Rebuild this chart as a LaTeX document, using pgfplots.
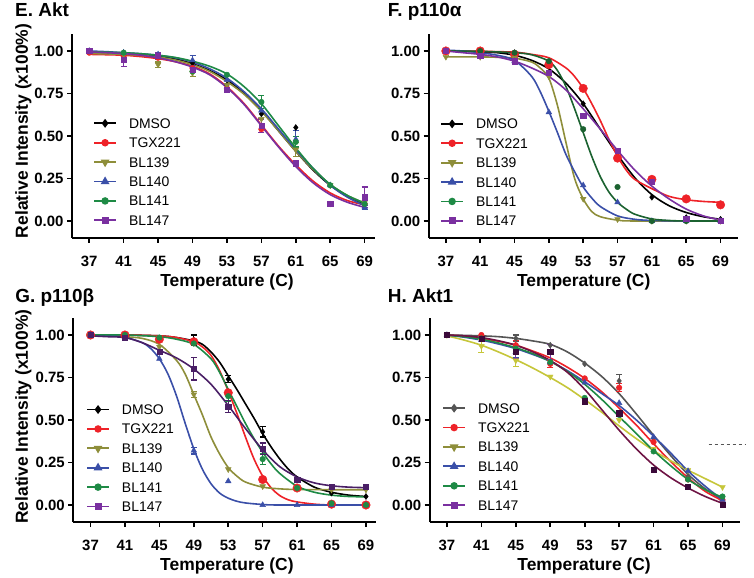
\documentclass[border=0pt]{standalone}
\usepackage{fontspec}
\setmainfont{Liberation Sans}
\usepackage{pgfplots}
\pgfplotsset{compat=1.18}

\definecolor{cRed}{HTML}{EE2228}
\definecolor{cOlive}{HTML}{8E8E3A}
\definecolor{cBlue}{HTML}{3A4FA8}
\definecolor{cGreen}{HTML}{1E8A45}
\definecolor{cDkGreen}{HTML}{1B6230}
\definecolor{cPurple}{HTML}{7A30A0}
\definecolor{cDkPurple}{HTML}{4A1F66}
\definecolor{cGray}{HTML}{555555}
\definecolor{cYellow}{HTML}{C6C63A}
\definecolor{cMaroon}{HTML}{6E1444}
\definecolor{cDkMark}{HTML}{3B0A3A}

\newcommand\tickfont{\fontsize{15}{17}\selectfont\bfseries}
\newcommand\labfont{\fontsize{17.5}{20}\selectfont\bfseries}
\newcommand\titfont{\fontsize{19}{22}\selectfont\bfseries}
\newcommand\legfont{\fontsize{14}{16}\selectfont}

\pgfplotsset{
  cetsa/.style={
    scale only axis, height=204bp,
    xmin=35, ymin=-0.1, ymax=1.1,
    axis lines=left, axis line style={-, line width=1.6bp},
    xtick={37,41,...,69}, ytick={0,0.25,0.5,0.75,1},
    tick align=outside, major tick length=5bp,
    every tick/.style={black, line width=1.6bp},
    ticklabel style={font=\tickfont},
    xticklabel style={yshift=-10bp},
    yticklabel style={/pgf/number format/.cd, fixed, fixed zerofill, precision=2},
    /pgf/number format/assume math mode=true,
    xlabel={Temperature (C)},
    xlabel style={font=\labfont, anchor=base},
    ylabel style={font=\labfont, anchor=base},
    title style={font=\titfont, anchor=base west},
    legend cell align=left,
    legend style={draw=none, fill=none, inner sep=0pt, column sep=12bp, row sep=9.4bp,
      font=\legfont, nodes={inner sep=0pt, text height=10bp, text depth=0pt}, anchor=north west},
    legend image code/.code={\draw[mark repeat=2,mark phase=2,#1] plot coordinates {(0bp,0bp) (11bp,0bp) (22bp,0bp)};},
    clip=false,
  },
  fit/.style={smooth, no marks, line width=1.6bp, forget plot},
  pts/.style={only marks, forget plot,
    error bars/y dir=both, error bars/y explicit,
    error bars/error bar style={line width=1.1bp},
    error bars/error mark options={rotate=90, mark size=3bp, line width=1.1bp}},
  leg/.style={line width=1.8bp},
  mDMSO/.style={mark=diamond*, mark size=3bp},
  mTGX/.style={mark=*, mark size=2.8bp},
  mBIG/.style={mark=*, mark size=4.3bp},
  m139/.style={mark=triangle*, mark size=3.3bp, mark options={rotate=180}},
  m140/.style={mark=triangle*, mark size=3.3bp},
  m141/.style={mark=*, mark size=2.8bp},
  m147/.style={mark=square*, mark size=2.6bp},
}

\begin{document}
\begin{tikzpicture}
\useasboundingbox (0,0) rectangle (754bp,578bp);

% ---------------- E. Akt
\begin{axis}[cetsa, at={(72bp,340bp)}, anchor=south west, width=303bp, xmax=70.2,
  title={E. Akt}, title style={at={(axis description cs:-0.199,1.058)}},
  xlabel style={at={(axis description cs:0.5116,-0.238)}},
  ylabel={Relative Intensity (x100\%)}, ylabel style={at={(axis description cs:-0.146,0.5245)}},
  legend style={at={(axis cs:37.44,0.605)}}]
\addlegendimage{leg, black, mDMSO}\addlegendentry{DMSO}
\addlegendimage{leg, cRed, mTGX}\addlegendentry{TGX221}
\addlegendimage{leg, cOlive, m139}\addlegendentry{BL139}
\addlegendimage{leg, cBlue, m140}\addlegendentry{BL140}
\addlegendimage{leg, cGreen, m141}\addlegendentry{BL141}
\addlegendimage{leg, cPurple, m147}\addlegendentry{BL147}

\addplot[fit, black] coordinates {(37,0.990) (39,0.988) (41,0.985) (43,0.979) (45,0.970) (47,0.953) (49,0.925) (51,0.885) (53,0.830) (55,0.750) (57,0.650) (59,0.530) (61,0.410) (63,0.300) (65,0.210) (67,0.145) (69,0.100)};
\addplot[fit, cRed] coordinates {(37,0.980) (39,0.978) (41,0.975) (43,0.967) (45,0.955) (47,0.937) (49,0.910) (51,0.865) (53,0.790) (55,0.690) (57,0.565) (59,0.440) (61,0.330) (63,0.235) (65,0.165) (67,0.120) (69,0.095)};
\addplot[fit, cOlive] coordinates {(37,0.985) (39,0.983) (41,0.980) (43,0.974) (45,0.965) (47,0.947) (49,0.920) (51,0.880) (53,0.820) (55,0.745) (57,0.645) (59,0.530) (61,0.410) (63,0.305) (65,0.215) (67,0.150) (69,0.105)};
\addplot[fit, cBlue] coordinates {(37,1.000) (39,0.996) (41,0.990) (43,0.984) (45,0.975) (47,0.960) (49,0.935) (51,0.895) (53,0.840) (55,0.760) (57,0.660) (59,0.540) (61,0.420) (63,0.310) (65,0.210) (67,0.140) (69,0.090)};
\addplot[fit, cGreen] coordinates {(37,0.995) (39,0.993) (41,0.990) (43,0.984) (45,0.975) (47,0.962) (49,0.940) (51,0.910) (53,0.865) (55,0.790) (57,0.690) (59,0.560) (61,0.430) (63,0.310) (65,0.215) (67,0.150) (69,0.105)};
\addplot[fit, cPurple] coordinates {(37,0.995) (39,0.990) (41,0.985) (43,0.975) (45,0.960) (47,0.937) (49,0.905) (51,0.860) (53,0.785) (55,0.685) (57,0.560) (59,0.435) (61,0.320) (63,0.225) (65,0.155) (67,0.110) (69,0.080)};

\addplot[pts, black, mDMSO] coordinates {(37,1.00) (41,0.99) (45,0.97) (49,0.93) (53,0.80) (57,0.63) (61,0.55) (65,0.21) (69,0.10)};
\addplot[pts, cRed, mTGX] coordinates {(37,0.99) (41,0.97) (45,0.96) (49,0.90) (53,0.78) (57,0.54) (61,0.34) (65,0.10) (69,0.10)};
\addplot[pts, cOlive, m139] coordinates {(37,1.00) (41,0.98) (45,0.92) +- (0,0.015) (49,0.87) +- (0,0.02) (53,0.80) (57,0.60) (61,0.42) +- (0,0.04) (65,0.21) (69,0.11)};
\addplot[pts, cBlue, m140] coordinates {(37,1.00) (41,0.99) (45,0.98) (49,0.945) +- (0,0.03) (53,0.83) (57,0.65) (61,0.48) +- (0,0.05) (65,0.21) (69,0.08) +- (0,0.01)};
\addplot[pts, cGreen, m141] coordinates {(37,1.00) (41,0.99) (45,0.97) (49,0.88) (53,0.86) (57,0.70) +- (0,0.04) (61,0.465) +- (0,0.03) (65,0.21) (69,0.10)};
\addplot[pts, cPurple, m147] coordinates {(37,1.00) (41,0.95) +- (0,0.04) (45,0.97) +- (0,0.02) (49,0.89) (53,0.77) (57,0.56) +- (0,0.04) (61,0.34) (65,0.10) (69,0.14) +- (0,0.06)};
\end{axis}

% ---------------- F. p110alpha
\begin{axis}[cetsa, at={(428.7bp,340bp)}, anchor=south west, width=309bp, xmax=71,
  title={F. p110α}, title style={at={(axis description cs:-0.1437,1.058)}},
  xlabel style={at={(axis description cs:0.5016,-0.238)}},
  legend style={at={(axis cs:36.32,0.602)}}]
\addlegendimage{leg, black, mDMSO}\addlegendentry{DMSO}
\addlegendimage{leg, cRed, mTGX}\addlegendentry{TGX221}
\addlegendimage{leg, cOlive, m139}\addlegendentry{BL139}
\addlegendimage{leg, cBlue, m140}\addlegendentry{BL140}
\addlegendimage{leg, cGreen, m141}\addlegendentry{BL141}
\addlegendimage{leg, cPurple, m147}\addlegendentry{BL147}

\addplot[fit, black] coordinates {(37,1.0) (39,0.998) (41,0.995) (43,0.99) (45,0.975) (47,0.945) (49,0.895) (51,0.81) (53,0.69) (55,0.54) (57,0.39) (59,0.255) (61,0.155) (63,0.09) (65,0.05) (67,0.025) (69,0.01)};
\addplot[fit, cRed] coordinates {(37,1.0) (41,0.998) (45,0.993) (47,0.98) (49,0.96) (51,0.90) (52,0.85) (53,0.78) (54,0.69) (55,0.59) (56,0.48) (57,0.38) (58,0.30) (59,0.245) (61,0.19) (63,0.145) (65,0.125) (67,0.115) (69,0.11)};
\addplot[fit, cOlive] coordinates {(37,0.965) (41,0.965) (43,0.963) (45,0.958) (47,0.935) (48,0.90) (49,0.84) (50,0.68) (51,0.46) (52,0.25) (53,0.13) (54,0.055) (55,0.025) (57,0.005) (59,0) (69,0)};
\addplot[fit, cBlue] coordinates {(37,1.005) (39,1.0) (41,0.99) (43,0.975) (45,0.945) (47,0.85) (48,0.76) (49,0.645) (50,0.52) (51,0.39) (52,0.29) (53,0.20) (54,0.135) (55,0.085) (57,0.03) (59,0.01) (61,0.003) (65,0) (69,0)};
\addplot[fit, cDkGreen] coordinates {(37,1.0) (41,0.998) (45,0.99) (47,0.978) (49,0.94) (50,0.885) (51,0.79) (52,0.66) (53,0.52) (54,0.38) (55,0.26) (56,0.17) (57,0.11) (58,0.07) (59,0.04) (61,0.012) (63,0.003) (65,0) (69,0)};
\addplot[fit, cPurple] coordinates {(37,1.0) (39,0.99) (41,0.98) (43,0.965) (45,0.94) (47,0.90) (49,0.85) (51,0.77) (53,0.66) (55,0.54) (57,0.415) (59,0.30) (61,0.205) (63,0.13) (65,0.07) (67,0.03) (69,0.005)};

\addplot[pts, black, mDMSO] coordinates {(37,1.0) (41,0.99) (45,0.99) (49,0.91) (53,0.69) (57,0.38) (61,0.14) (65,0.02) (69,0.01)};
\addplot[pts, cRed, mBIG] coordinates {(37,1.0) (41,1.0) (45,0.98) (49,0.92) (53,0.78) (57,0.37) (61,0.245) (65,0.13) (69,0.095)};
\addplot[pts, cOlive, m139] coordinates {(37,0.965) (41,0.965) (45,0.96) (49,0.85) (53,0.13) (57,0.01) (61,0) (65,0) (69,0)};
\addplot[pts, cBlue, m140] coordinates {(37,1.0) (41,0.98) (45,0.94) (49,0.64) (53,0.21) (57,0.11) (61,0) (65,0) (69,0)};
\addplot[pts, cDkGreen, m141] coordinates {(37,1.0) (41,1.0) (45,0.99) (49,0.94) (53,0.54) (57,0.20) (61,0) (65,0) (69,0)};
\addplot[pts, cPurple, m147] coordinates {(37,1.0) (41,0.97) (45,0.94) (49,0.87) (53,0.62) (57,0.415) (61,0.23) (65,0.015) (69,0)};
\end{axis}

% ---------------- G. p110beta
\begin{axis}[cetsa, at={(73.3bp,56bp)}, anchor=south west, width=303bp, xmax=70.2,
  title={G. p110β}, title style={at={(axis description cs:-0.203,1.046)}},
  xlabel style={at={(axis description cs:0.507,-0.238)}},
  ylabel={Relative Intensity (x100\%)}, ylabel style={at={(axis description cs:-0.150,0.516)}},
  legend style={at={(axis cs:36.47,0.592)}}]
\addlegendimage{leg, black, mDMSO}\addlegendentry{DMSO}
\addlegendimage{leg, cRed, mTGX}\addlegendentry{TGX221}
\addlegendimage{leg, cOlive, m139}\addlegendentry{BL139}
\addlegendimage{leg, cBlue, m140}\addlegendentry{BL140}
\addlegendimage{leg, cGreen, m141}\addlegendentry{BL141}
\addlegendimage{leg, cPurple, m147}\addlegendentry{BL147}

\addplot[fit, black] coordinates {(37,1.0) (41,1.0) (45,0.995) (47,0.985) (49,0.965) (50,0.945) (51,0.90) (52,0.84) (53,0.76) (54,0.68) (55,0.595) (56,0.51) (57,0.42) (58,0.34) (59,0.27) (60,0.21) (61,0.165) (63,0.105) (65,0.075) (67,0.058) (69,0.05)};
\addplot[fit, cRed] coordinates {(37,1.0) (41,1.0) (45,0.995) (47,0.985) (49,0.96) (50,0.93) (51,0.88) (52,0.79) (53,0.67) (54,0.54) (55,0.40) (56,0.27) (57,0.17) (58,0.10) (59,0.055) (60,0.03) (61,0.018) (63,0.005) (65,0) (69,0)};
\addplot[fit, cOlive] coordinates {(37,1.0) (39,0.997) (41,0.99) (43,0.98) (45,0.945) (47,0.85) (48,0.77) (49,0.65) (50,0.53) (51,0.40) (52,0.30) (53,0.22) (54,0.17) (55,0.135) (57,0.105) (59,0.095) (61,0.091) (65,0.09) (69,0.09)};
\addplot[fit, cBlue] coordinates {(37,1.0) (39,0.998) (41,0.987) (43,0.955) (44,0.92) (45,0.86) (46,0.77) (47,0.64) (48,0.48) (49,0.33) (50,0.21) (51,0.125) (52,0.07) (53,0.04) (54,0.022) (55,0.012) (57,0.003) (59,0) (69,0)};
\addplot[fit, cGreen] coordinates {(37,1.0) (41,1.0) (45,0.99) (47,0.975) (49,0.945) (51,0.86) (52,0.78) (53,0.68) (54,0.58) (55,0.48) (56,0.39) (57,0.31) (58,0.24) (59,0.185) (61,0.11) (63,0.075) (65,0.058) (67,0.05) (69,0.048)};
\addplot[fit, cDkPurple] coordinates {(37,0.995) (39,0.99) (41,0.985) (43,0.955) (45,0.91) (47,0.865) (49,0.80) (51,0.71) (53,0.585) (55,0.45) (57,0.325) (59,0.225) (61,0.165) (63,0.13) (65,0.113) (67,0.105) (69,0.102)};

\addplot[pts, black, mDMSO] coordinates {(37,1.0) (41,1.0) (45,0.98) (49,0.97) +- (0,0.03) (53,0.74) +- (0,0.02) (57,0.43) +- (0,0.03) (61,0.15) (65,0.07) (69,0.05)};
\addplot[pts, cRed, mBIG] coordinates {(37,1.0) (41,1.0) (45,0.975) (49,0.96) (53,0.66) (57,0.15) (61,0.10) (65,0.005) (69,0)};
\addplot[pts, cOlive, m139] coordinates {(37,1.0) (41,0.99) (45,0.93) (49,0.65) +- (0,0.02) (53,0.21) (57,0.11) (61,0.10) (65,0.09) (69,0.09)};
\addplot[pts, cBlue, m140] coordinates {(37,1.0) (41,0.99) (45,0.86) (49,0.32) +- (0,0.02) (53,0.14) (57,0) (61,0) (65,0) (69,0)};
\addplot[pts, cGreen, m141] coordinates {(37,1.0) (41,1.0) (45,0.985) (49,0.95) (53,0.64) +- (0,0.03) (57,0.27) +- (0,0.03) (61,0.10) (65,0.01) (69,0)};
\addplot[pts, cDkPurple, m147] coordinates {(37,1.0) (41,0.985) (45,0.90) (49,0.80) +- (0,0.065) (53,0.58) +- (0,0.035) (57,0.33) +- (0,0.035) (61,0.15) (65,0.11) (69,0.11)};
\end{axis}

% ---------------- H. Akt1
\begin{axis}[cetsa, at={(429.7bp,56bp)}, anchor=south west, width=310bp, xmax=71,
  title={H. Akt1}, title style={at={(axis description cs:-0.146,1.046)}},
  xlabel style={at={(axis description cs:0.498,-0.238)}},
  legend style={at={(axis cs:36.43,0.60)}}]
\addlegendimage{leg, cGray, mDMSO}\addlegendentry{DMSO}
\addlegendimage{leg, cRed, mTGX}\addlegendentry{TGX221}
\addlegendimage{leg, cOlive, m139}\addlegendentry{BL139}
\addlegendimage{leg, cBlue, m140}\addlegendentry{BL140}
\addlegendimage{leg, cGreen, m141}\addlegendentry{BL141}
\addlegendimage{leg, cPurple, m147}\addlegendentry{BL147}

\addplot[fit, cGray] coordinates {(37,1.0) (39,0.998) (41,0.995) (43,0.99) (45,0.98) (47,0.965) (49,0.945) (51,0.90) (53,0.835) (55,0.755) (57,0.655) (59,0.535) (61,0.41) (63,0.29) (65,0.18) (67,0.095) (69,0.03)};
\addplot[fit, cRed] coordinates {(37,1.0) (39,0.992) (41,0.98) (43,0.963) (45,0.94) (47,0.905) (49,0.865) (51,0.81) (53,0.745) (55,0.665) (57,0.57) (59,0.47) (61,0.36) (63,0.255) (65,0.16) (67,0.08) (69,0.025)};
\addplot[fit, cYellow] coordinates {(37,0.995) (39,0.97) (41,0.94) (43,0.90) (45,0.855) (47,0.805) (49,0.75) (51,0.69) (53,0.62) (55,0.545) (57,0.465) (59,0.39) (61,0.32) (63,0.26) (65,0.205) (67,0.155) (69,0.105)};
\addplot[fit, cBlue] coordinates {(37,1.0) (39,0.987) (41,0.97) (43,0.947) (45,0.92) (47,0.885) (49,0.845) (51,0.79) (53,0.725) (55,0.655) (57,0.585) (59,0.50) (61,0.405) (63,0.305) (65,0.20) (67,0.11) (69,0.03)};
\addplot[fit, cGreen] coordinates {(37,1.0) (39,0.99) (41,0.975) (43,0.953) (45,0.925) (47,0.89) (49,0.845) (51,0.785) (53,0.71) (55,0.62) (57,0.52) (59,0.42) (61,0.32) (63,0.23) (65,0.15) (67,0.09) (69,0.045)};
\addplot[fit, cMaroon] coordinates {(37,1.0) (39,0.995) (41,0.985) (43,0.966) (45,0.94) (47,0.90) (49,0.85) (51,0.78) (53,0.68) (55,0.56) (57,0.44) (59,0.33) (61,0.235) (63,0.16) (65,0.10) (67,0.05) (69,0.01)};

\addplot[pts, cGray, mDMSO] coordinates {(37,1.0) (41,0.99) (45,0.98) +- (0,0.02) (49,0.94) (53,0.83) (57,0.73) +- (0,0.04) (61,0.39) (65,0.17) (69,0.03)};
\addplot[pts, cRed, mTGX] coordinates {(37,1.0) (41,1.0) (45,0.94) +- (0,0.03) (49,0.83) +- (0,0.02) (53,0.745) (57,0.69) +- (0,0.025) (61,0.37) (65,0.15) (69,0.03)};
\addplot[pts, cYellow, m139] coordinates {(37,1.0) (41,0.935) +- (0,0.04) (45,0.85) +- (0,0.035) (49,0.755) (53,0.62) (57,0.50) (61,0.33) (65,0.205) (69,0.105)};
\addplot[pts, cBlue, m140] coordinates {(37,1.0) (41,0.97) (45,0.90) +- (0,0.03) (49,0.84) (53,0.72) (57,0.60) (61,0.40) (65,0.20) (69,0.03)};
\addplot[pts, cGreen, m141] coordinates {(37,1.0) (41,0.98) (45,0.92) (49,0.84) (53,0.63) (57,0.53) (61,0.315) (65,0.15) (69,0.05)};
\addplot[pts, cDkMark, m147, error bars/error bar style={cPurple, line width=1.1bp}] coordinates {(37,1.0) (41,0.98) (45,0.90) +- (0,0.04) (49,0.90) +- (0,0.045) (53,0.61) (57,0.54) (61,0.21) (65,0.11) (69,0)};
\draw[cGray, dashed, line width=1bp] (axis cs:67.4,0.353) -- (axis cs:71.6,0.353);
\end{axis}
\end{tikzpicture}
\end{document}
